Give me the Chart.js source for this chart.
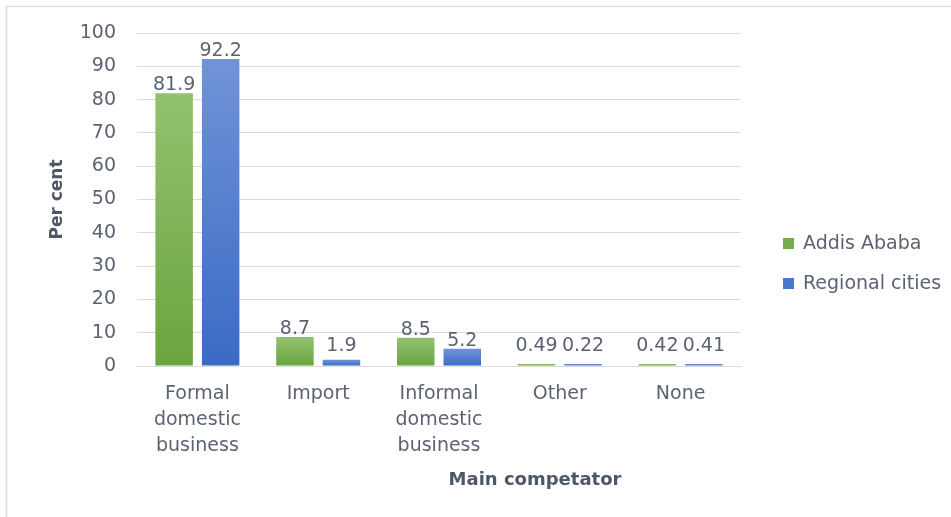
<!DOCTYPE html>
<html>
<head>
<meta charset="utf-8">
<script src="https://cdn.jsdelivr.net/npm/chart.js@4/dist/chart.umd.min.js"></script>
<style>
  html, body { margin: 0; padding: 0; background: #ffffff; }
  #wrap { position: relative; width: 951px; height: 517px; }
</style>
</head>
<body>
<div id="wrap"><canvas id="chart" width="951" height="517"></canvas></div>
<script>
// Main competitor by location (per cent)
const categories = [
  ['Formal', 'domestic', 'business'],
  'Import',
  ['Informal', 'domestic', 'business'],
  'Other',
  'None'
];
const addisAbaba = [81.9, 8.7, 8.5, 0.49, 0.42];
const regionalCities = [92.2, 1.9, 5.2, 0.22, 0.41];
const yTicks = [0, 10, 20, 30, 40, 50, 60, 70, 80, 90, 100];

const seriesNames = ['Addis Ababa', 'Regional cities'];
const xTitle = 'Main competator';
const yTitle = 'Per cent';

const seriesColors = [
  { top: '#92c270', bottom: '#6aa53d', solid: '#75ad4b' },
  { top: '#7193d8', bottom: '#3a6bc4', solid: '#4a78cc' }
];

const textColor = '#5b6372';
const titleColor = '#4d5766';
const gridColor = '#dcdcdc';
const FONT = "'DejaVu Sans', sans-serif";

// Vertical gradient per bar, from its top to the zero line
function barGradient(idx) {
  return (ctx) => {
    const chart = ctx.chart;
    const y = chart.scales && chart.scales.y;
    if (!chart.chartArea || !y || ctx.type !== 'data') return seriesColors[idx].solid;
    const top = y.getPixelForValue(ctx.raw);
    const base = y.getPixelForValue(0);
    const g = chart.ctx.createLinearGradient(0, Math.min(top, base - 2), 0, base);
    g.addColorStop(0, seriesColors[idx].top);
    g.addColorStop(1, seriesColors[idx].bottom);
    return g;
  };
}

// Light frame along the top and left edges
const framePlugin = {
  id: 'frame',
  beforeDraw(chart) {
    const c = chart.ctx;
    c.save();
    c.fillStyle = '#ffffff';
    c.fillRect(0, 0, chart.width, chart.height);
    c.strokeStyle = '#d9dde3';
    c.lineWidth = 1.5;
    c.beginPath();
    c.moveTo(6.5, chart.height);
    c.lineTo(6.5, 6.5);
    c.lineTo(chart.width, 6.5);
    c.stroke();
    c.restore();
  }
};

// Value labels above each bar
const valueLabels = {
  id: 'valueLabels',
  afterDatasetsDraw(chart) {
    const c = chart.ctx;
    const base = chart.scales.y.getPixelForValue(0);
    c.save();
    c.font = '19px ' + FONT;
    c.fillStyle = textColor;
    c.textAlign = 'center';
    c.textBaseline = 'alphabetic';
    chart.data.datasets.forEach((ds, i) => {
      const meta = chart.getDatasetMeta(i);
      meta.data.forEach((bar, j) => {
        const yPos = Math.min(bar.y - 3, base - 15);
        c.fillText(String(ds.data[j]), bar.x, yPos);
      });
    });
    c.restore();
  }
};

// Legend on the right, stacked vertically, plus the category axis title
const sideLegend = {
  id: 'sideLegend',
  afterDraw(chart) {
    const c = chart.ctx;
    const x0 = 783;
    const rows = [244, 284];
    c.save();
    c.font = '19px ' + FONT;
    c.textBaseline = 'middle';
    c.textAlign = 'left';
    chart.data.datasets.forEach((ds, i) => {
      const yc = rows[i];
      c.fillStyle = seriesColors[i].solid;
      c.fillRect(x0, yc - 6, 11, 11);
      c.fillStyle = textColor;
      c.fillText(ds.label, x0 + 20, yc);
    });
    c.font = 'bold 18px ' + FONT;
    c.fillStyle = titleColor;
    c.textAlign = 'center';
    c.fillText(xTitle, 535, 480);
    c.restore();
  }
};

new Chart(document.getElementById('chart'), {
  type: 'bar',
  data: {
    labels: categories,
    datasets: [
      { label: seriesNames[0], data: addisAbaba, backgroundColor: barGradient(0),
        categoryPercentage: 0.77, barPercentage: 0.806, minBarLength: 2 },
      { label: seriesNames[1], data: regionalCities, backgroundColor: barGradient(1),
        categoryPercentage: 0.77, barPercentage: 0.806, minBarLength: 2 }
    ]
  },
  options: {
    responsive: false,
    animation: false,
    devicePixelRatio: 1,
    layout: { padding: { top: 33, right: 210, bottom: 0, left: 0 } },
    plugins: {
      legend: { display: false },
      tooltip: { enabled: false }
    },
    scales: {
      x: {
        grid: { display: false, drawTicks: false },
        border: { display: true, color: gridColor, width: 1 },
        ticks: {
          color: textColor,
          padding: 15,
          font: { family: FONT, size: 19, lineHeight: 1.37 },
          maxRotation: 0,
          autoSkip: false
        },
        afterFit(scale) { scale.height = 151; }
      },
      y: {
        min: 0,
        max: 100,
        afterBuildTicks(scale) { scale.ticks = yTicks.map(v => ({ value: v })); },
        grid: { color: gridColor, drawTicks: false, lineWidth: 1 },
        border: { display: false },
        ticks: {
          color: textColor,
          padding: 21,
          font: { family: FONT, size: 19 }
        },
        title: {
          display: true,
          text: yTitle,
          color: titleColor,
          font: { family: FONT, size: 17, weight: 'bold', lineHeight: 1.2 },
          padding: { top: 47, bottom: 0 }
        },
        afterFit(scale) { scale.width = 137; }
      }
    }
  },
  plugins: [framePlugin, valueLabels, sideLegend]
});
</script>
</body>
</html>
